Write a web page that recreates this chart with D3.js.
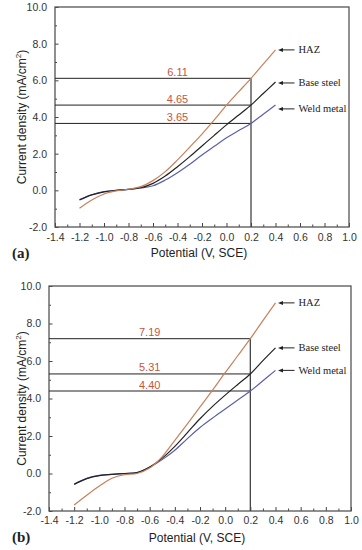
<!DOCTYPE html>
<html><head><meta charset="utf-8">
<script src="https://cdn.jsdelivr.net/npm/d3@7"></script>
<style>body{margin:0;background:#fff}svg{display:block}</style>
</head><body>
<svg id="chart" width="362" height="550"></svg>
<script>
// ---------- data ----------
const potentials = [-1.2,-1.1,-1.0,-0.9,-0.8,-0.7,-0.6,-0.5,-0.4,-0.3,-0.2,-0.1,0.0,0.1,0.2,0.3,0.4];
const seriesNames = ["HAZ","Base steel","Weld metal"];
const hazA  = [-0.98,-0.53,-0.20,-0.03,0.06,0.20,0.53,1.02,1.66,2.36,3.07,3.84,4.65,5.38,6.11,6.88,7.66];
const baseA = [-0.53,-0.25,-0.08,0.00,0.05,0.14,0.38,0.78,1.29,1.84,2.42,3.00,3.57,4.11,4.65,5.28,5.91];
const weldA = [-0.50,-0.24,-0.07,0.00,0.05,0.13,0.25,0.56,0.96,1.42,1.93,2.40,2.87,3.26,3.65,4.15,4.66];
const hazB  = [-1.68,-1.16,-0.67,-0.25,-0.06,0.00,0.29,0.90,1.77,2.65,3.55,4.45,5.38,6.28,7.19,8.15,9.10];
const baseB = [-0.58,-0.27,-0.11,-0.05,0.00,0.05,0.35,0.82,1.45,2.18,2.92,3.58,4.18,4.75,5.31,6.02,6.70];
const weldB = [-0.57,-0.26,-0.10,-0.05,0.00,0.05,0.33,0.74,1.24,1.86,2.45,2.96,3.44,3.92,4.40,4.95,5.50];
const markerValuesA = [6.11,4.65,3.65];
const markerValuesB = [7.19,5.31,4.40];
const markerLabelsA = ["6.11","4.65","3.65"];
const markerLabelsB = ["7.19","5.31","4.40"];
const markerPotential = 0.2;
const yTicks = [-2,0,2,4,6,8,10];
const yMinorTicks = [-1,1,3,5,7,9];
const xTicks = [-1.4,-1.2,-1.0,-0.8,-0.6,-0.4,-0.2,0.0,0.2,0.4,0.6,0.8,1.0];
const xMinorTicks = [-1.3,-1.1,-0.9,-0.7,-0.5,-0.3,-0.1,0.1,0.3,0.5,0.7,0.9];
const panelLabels = ["(a)","(b)"];
const xTitle = "Potential (V, SCE)";
const yTitle = "Current density (mA/cm";

// ---------- drawing ----------
const colors = ["#c8805a","#222222","#5a60aa"];
const labelColor = "#c8553d";
const svg = d3.select("#chart");
const fmt = d => d3.format(".1f")(d).replace("\u2212","-");

const panels = [
  {L:55,T:7,R:349,B:227, series:[hazA,baseA,weldA], marks:markerValuesA, markLabels:markerLabelsA, labelPot:-0.4,
   label:panelLabels[0], labelY:258, xTitleY:257, xTickY:240.5, arrowDy:[0,1,4]},
  {L:49,T:286,R:351,B:511, series:[hazB,baseB,weldB], marks:markerValuesB, markLabels:markerLabelsB, labelPot:-0.6,
   label:panelLabels[1], labelY:542, xTitleY:542, xTickY:524, arrowDy:[0,0,0]}
];

panels.forEach(p => {
  const x = d3.scaleLinear().domain([-1.4,1.0]).range([p.L,p.R]);
  const y = d3.scaleLinear().domain([-2,10]).range([p.B,p.T]);
  const g = svg.append("g");

  const yAxis = d3.axisLeft(y).tickValues(yTicks).tickFormat(fmt).tickSizeInner(-3.5).tickSizeOuter(0).tickPadding(8);
  const yMinor = d3.axisLeft(y).tickValues(yMinorTicks).tickFormat("").tickSizeInner(-2).tickSizeOuter(0);
  const xAxis = d3.axisBottom(x).tickValues(xTicks).tickFormat(fmt).tickSizeInner(-4).tickSizeOuter(0).tickPadding(8);
  const xMinor = d3.axisBottom(x).tickValues(xMinorTicks).tickFormat("").tickSizeInner(-2.5).tickSizeOuter(0);

  [ [yAxis,`translate(${p.L},0)`,false], [yMinor,`translate(${p.L},0)`,false], [xAxis,`translate(0,${p.B})`,true], [xMinor,`translate(0,${p.B})`,true] ]
    .forEach(([ax,tr,isX]) => {
      const a = g.append("g").attr("transform",tr).call(ax);
      a.select(".domain").remove();
      a.selectAll("line").attr("stroke","#444").attr("stroke-width",1);
      a.selectAll("text").attr("fill","#333").style("font-family","'Liberation Sans', Arial, sans-serif").style("font-size","10.5px");
      if (isX) a.selectAll("text").attr("dy",null).attr("y", p.xTickY - p.B);
    });

  g.append("rect").attr("x",p.L).attr("y",p.T).attr("width",p.R-p.L).attr("height",p.B-p.T)
    .attr("fill","none").attr("stroke","#555").attr("stroke-width",1.3);

  p.marks.forEach((v,i) => {
    g.append("line").attr("x1",x(-1.4)).attr("x2",x(markerPotential)).attr("y1",y(v)).attr("y2",y(v))
      .attr("stroke","#222").attr("stroke-width",1);
    g.append("text").attr("x",x(p.labelPot)).attr("y",y(v)-2.5).attr("text-anchor","middle")
      .attr("fill",labelColor).style("font-family","'Liberation Sans', Arial, sans-serif").style("font-size","11px")
      .text(p.markLabels[i]);
  });
  g.append("line").attr("x1",x(markerPotential)).attr("x2",x(markerPotential)).attr("y1",y(-2)).attr("y2",y(d3.max(p.marks)))
    .attr("stroke","#444").attr("stroke-width",1.3);

  const line = d3.line().x((d,i)=>x(potentials[i])).y(d=>y(d)).curve(d3.curveCatmullRom.alpha(0.5));
  [2,1,0].forEach(k => {
    g.append("path").datum(p.series[k]).attr("d",line).attr("fill","none")
      .attr("stroke",colors[k]).attr("stroke-width",1.2);
  });

  p.series.forEach((s,k) => {
    const ex = x(potentials[potentials.length-1]);
    const ey = y(s[s.length-1]) + p.arrowDy[k];
    g.append("line").attr("x1",ex+6).attr("x2",ex+19).attr("y1",ey).attr("y2",ey).attr("stroke","#222").attr("stroke-width",1);
    g.append("path").attr("d",`M${ex+2.5},${ey} L${ex+7.5},${ey-2} L${ex+7.5},${ey+2} Z`).attr("fill","#222");
    g.append("text").attr("x",ex+23).attr("y",ey+3.5)
      .style("font-family","'Liberation Serif','Times New Roman',serif").style("font-size","10.5px").attr("fill","#222")
      .text(seriesNames[k]);
  });

  g.append("text").attr("x",(p.L+p.R)/2 - 3).attr("y",p.xTitleY).attr("text-anchor","middle")
    .style("font-family","'Liberation Sans', Arial, sans-serif").style("font-size","12px").attr("fill","#222").text(xTitle);
  const yt = g.append("text").attr("transform",`translate(26,${(p.T+p.B)/2}) rotate(-90)`).attr("text-anchor","middle")
    .style("font-family","'Liberation Sans', Arial, sans-serif").style("font-size","12px").attr("fill","#222");
  yt.append("tspan").text(yTitle);
  yt.append("tspan").attr("dy",-5).style("font-size","8px").text("2");
  yt.append("tspan").attr("dy",5).text(")");

  g.append("text").attr("x",12).attr("y",p.labelY)
    .style("font-family","'Liberation Serif','Times New Roman',serif").style("font-size","15px").style("font-weight","bold")
    .attr("fill","#222").text(p.label);
});
</script>
</body></html>
